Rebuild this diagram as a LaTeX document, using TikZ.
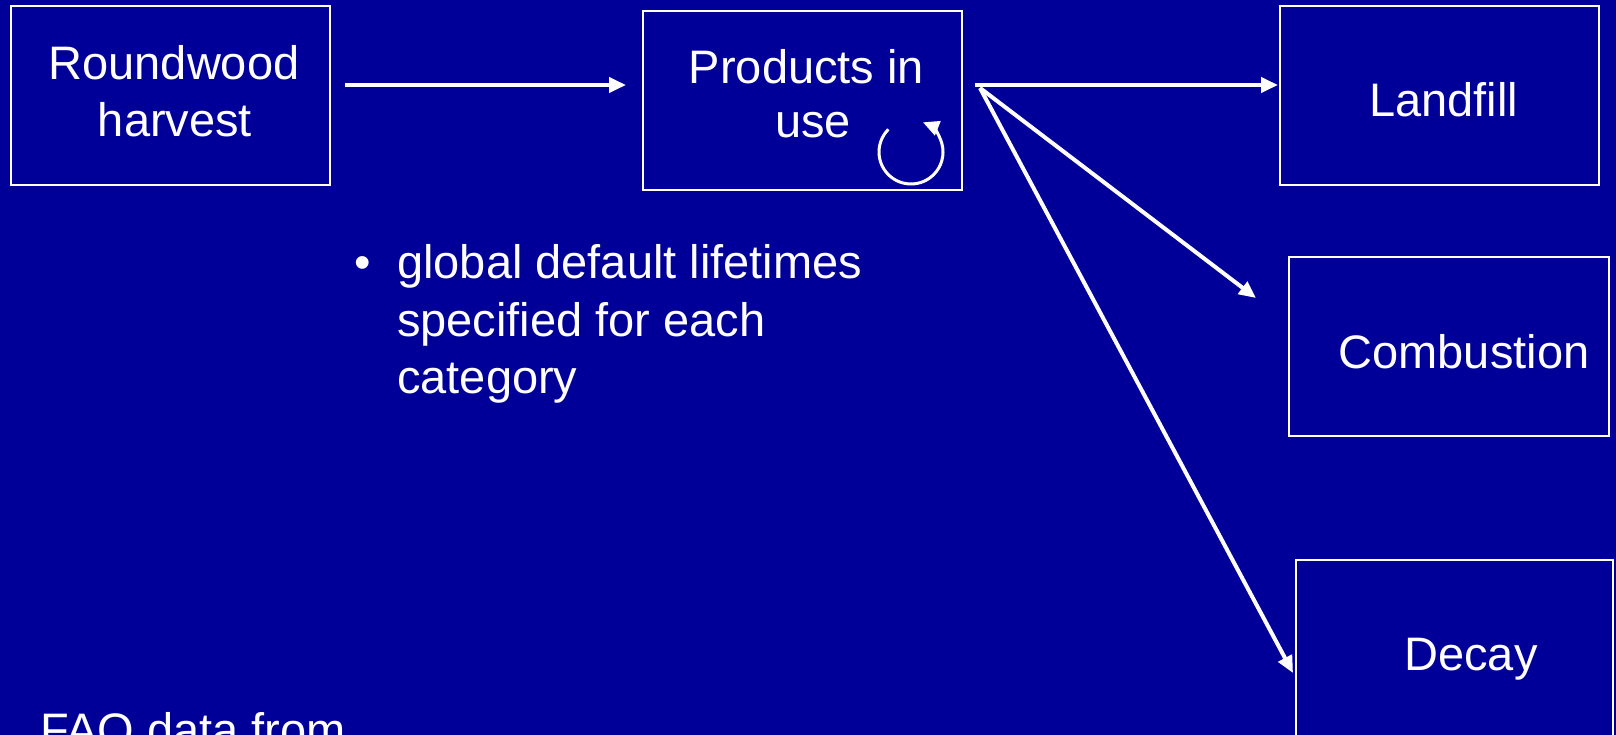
\documentclass[tikz,border=0pt]{standalone}
\usepackage{fontspec}
\setmainfont{Liberation Sans}
\usetikzlibrary{arrows.meta}
\definecolor{slideblue}{RGB}{0,0,153}
\begin{document}
\begin{tikzpicture}[x=1pt,y=-1pt,
  box/.style={draw=white, line width=2pt, inner sep=0pt, minimum height=179pt},
  lbl/.style={text=white, inner sep=0pt, anchor=base, font=\fontsize{47}{57}\selectfont},
  bul/.style={text=white, inner sep=0pt, anchor=base west, font=\fontsize{47}{57}\selectfont},
  flow/.style={draw=white, line width=4pt, -{Triangle[length=17pt,width=15pt]}},
  loop/.style={draw=white, line width=3pt, -{Triangle[length=16pt,width=15pt]}}]
\fill[slideblue] (0,0) rectangle (1616,735);
\useasboundingbox (0,0) rectangle (1616,735);

% boxes
\node[box, minimum width=319pt] (rw) at (170.5,95.5) {};
\node[box, minimum width=319pt] (piu) at (802.5,100.5) {};
\node[box, minimum width=319pt] (lf) at (1439.5,95.5) {};
\node[box, minimum width=320pt] (cb) at (1449,346.5) {};
\node[box, minimum width=317pt] (dc) at (1454.5,649.5) {};

% box texts
\node[lbl] (rwt1) at (174,80) {Roundwood};
\node[lbl] (rwt2) at (175,137) {harvest};
\node[lbl] (piut1) at (806.5,84) {Products in};
\node[lbl] (piut2) at (813,138) {use};
\node[lbl] (lft) at (1443.5,117) {Landfill};
\node[lbl] (cbt) at (1464,368) {Combustion};
\node[lbl] (dct) at (1471,670) {Decay};

% bullet text
\node[lbl] (dot) at (363,279) {•};
\node[bul] (b1) at (397,279) {global default lifetimes};
\node[bul] (b2) at (397,336) {specified for each};
\node[bul] (b3) at (397,393) {category};

% bottom text
\node[lbl, anchor=base west] (fao) at (40,746) {FAO data from};

% connector end points
\coordinate (a1s) at (345,85);
\coordinate (a1e) at (626,85);
\coordinate (a2s) at (975,85);
\coordinate (a2e) at (1278,85);
\coordinate (fork) at (980,88);
\coordinate (a3e) at (1256,298);
\coordinate (a4e) at (1293,673);
\coordinate (lc) at (911,152);

\draw[flow] (a1s) -- (a1e);
\draw[flow] (a2s) -- (a2e);
\draw[flow] (fork) -- (a3e);
\draw[flow] (fork) -- (a4e);

% recycling loop
\draw[loop] ([shift={(135:32pt)}]lc) arc[start angle=135, end angle=428, radius=32pt];
\end{tikzpicture}
\end{document}
